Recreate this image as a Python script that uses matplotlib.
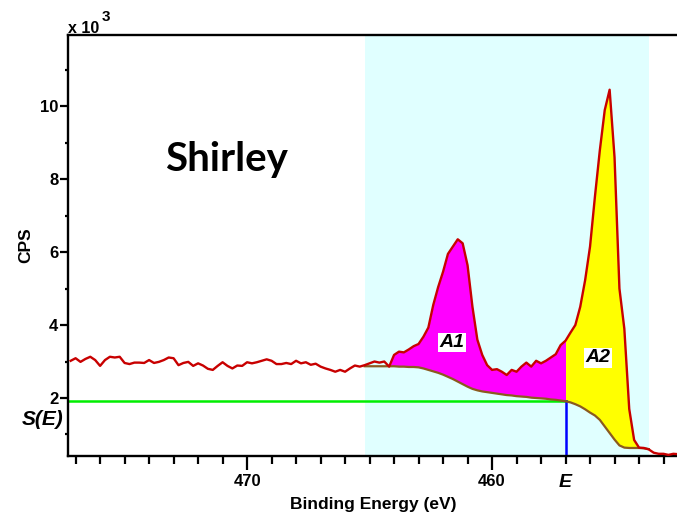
import numpy as np
import matplotlib
matplotlib.use('Agg')
import matplotlib.pyplot as plt
from matplotlib.ticker import MultipleLocator, FixedLocator

plt.rcParams['font.family'] = ['Liberation Sans', 'DejaVu Sans']

# binding energy grid of the spectrum (eV), 0.2 eV steps
be = np.linspace(477.2, 452.4, 125)
# measured counts (x 10^3 CPS)
cps = [3.02, 3.09, 2.99, 3.07, 3.13, 3.04, 2.88, 3.04, 3.13, 3.11,
       3.13, 2.96, 2.93, 2.97, 2.97, 2.96, 3.04, 2.96, 2.99, 3.04,
       3.11, 3.09, 2.90, 2.96, 2.99, 2.88, 2.95, 2.89, 2.80, 2.77,
       2.88, 2.98, 2.88, 2.81, 2.89, 2.88, 2.98, 2.95, 2.98, 3.02,
       3.06, 3.02, 2.93, 2.93, 2.96, 2.93, 3.02, 2.95, 2.98, 2.91,
       2.94, 2.86, 2.81, 2.77, 2.72, 2.77, 2.72, 2.81, 2.89, 2.86,
       2.90, 2.95, 3.00, 2.97, 3.00, 2.86, 3.18, 3.27, 3.25, 3.33,
       3.42, 3.48, 3.68, 3.93, 4.55, 5.04, 5.46, 5.95, 6.15, 6.35,
       6.24, 5.64, 4.50, 3.60, 3.18, 2.90, 2.77, 2.79, 2.72, 2.63,
       2.77, 2.72, 2.86, 2.97, 2.86, 3.02, 2.95, 3.02, 3.11, 3.20,
       3.45, 3.57, 3.79, 4.00, 4.50, 5.23, 6.15, 7.52, 8.79, 9.89,
       10.45, 8.60, 5.00, 3.90, 1.70, 0.85, 0.64, 0.63, 0.59, 0.50,
       0.47, 0.47, 0.44, 0.47, 0.46]
cps = np.array(cps)

# Shirley background over the region
region_lo, region_hi = 465.2, 453.6
be_bg = np.linspace(region_lo, region_hi, 59)
shirley = [2.87, 2.87, 2.87, 2.87, 2.87, 2.87, 2.87, 2.86, 2.86, 2.85,
           2.85, 2.84, 2.81, 2.77, 2.73, 2.69, 2.64, 2.58, 2.52, 2.45,
           2.38, 2.31, 2.25, 2.21, 2.18, 2.16, 2.14, 2.12, 2.10, 2.08,
           2.07, 2.05, 2.04, 2.03, 2.01, 2.00, 1.99, 1.98, 1.96, 1.95,
           1.93, 1.91, 1.88, 1.83, 1.77, 1.69, 1.60, 1.52, 1.40, 1.22,
           1.04, 0.86, 0.70, 0.64, 0.63, 0.63, 0.63, 0.62, 0.60]
shirley = np.array(shirley)

E = 457.0          # energy where S(E) is read
a1_start = 464.2   # start of the A1 area

i0 = np.argmin(np.abs(be - region_lo))
cps_bg = cps[i0:i0 + len(be_bg)]
S_E = shirley[np.argmin(np.abs(be_bg - E))]

fig = plt.figure(figsize=(6.77, 5.18), dpi=100)
ax = fig.add_axes([68/677, 1 - 456/518, 609/677, 421/518])

xmin, xmax = 477.31, 452.45
ymin, ymax = 0.41, 11.95

ax.axvspan(region_lo, region_hi, color='#E0FFFF', lw=0, zorder=0)

m1 = (be_bg <= a1_start + 1e-6) & (be_bg >= E - 1e-6)
m2 = be_bg <= E + 1e-6
ax.fill_between(be_bg, shirley, cps_bg, where=m1, color='#FF00FF', lw=0, zorder=1)
ax.fill_between(be_bg, shirley, cps_bg, where=m2, color='#FFFF00', lw=0, zorder=1)

ax.plot([xmin, E], [S_E, S_E], color='#00EE00', lw=1.8, zorder=2)
ax.plot([E, E], [ymin, S_E], color='#0000FF', lw=1.8, zorder=2)
ax.plot(be_bg, shirley, color='#8B5A1E', lw=1.6, zorder=3)
ax.plot(be, cps, color='#C80000', lw=1.7, zorder=4)

ax.set_xlim(xmin, xmax)
ax.set_ylim(ymin, ymax)

ax.xaxis.set_major_locator(FixedLocator([470, 460]))
ax.xaxis.set_minor_locator(MultipleLocator(1))
ax.yaxis.set_major_locator(FixedLocator([2, 4, 6, 8, 10]))
ax.yaxis.set_minor_locator(FixedLocator([1, 3, 5, 7, 9, 11]))
ax.tick_params(axis='x', which='major', length=10, width=1.6, pad=3, labelsize=12)
ax.tick_params(axis='x', which='minor', length=5.5, width=1.6)
ax.tick_params(axis='y', which='major', length=5.5, width=1.6, pad=1.5, labelsize=12)
ax.tick_params(axis='y', which='minor', length=2.5, width=1.6)
for lab in ax.get_xticklabels() + ax.get_yticklabels():
    lab.set_fontweight('bold')

for s in ['left', 'bottom', 'top']:
    ax.spines[s].set_linewidth(1.7)
ax.spines['right'].set_visible(False)

ax.set_xlabel('Binding Energy (eV)', fontsize=12.5, fontweight='bold')
ax.xaxis.set_label_coords(0.5008, -0.0974)
ax.set_ylabel('CPS', fontsize=12.5, fontweight='bold')
ax.yaxis.set_label_coords(-0.0575, 0.5)

ax.text(0.0, 1.005, 'x 10', transform=ax.transAxes, ha='left', va='baseline',
        fontsize=11.5, fontweight='bold')
ax.text(0.056, 1.033, '3', transform=ax.transAxes, ha='left', va='baseline',
        fontsize=11, fontweight='bold')

ax.text(473.35, 8.22, 'Shirley', family='Lato', fontweight='bold', fontsize=29,
        ha='left', va='baseline')

ax.text(477.5, 1.26, 'S(E)', fontsize=15, fontweight='bold', style='italic',
        ha='right', va='baseline', clip_on=False)
ax.text(E, -0.44, 'E', fontsize=14, fontweight='bold', style='italic',
        ha='center', va='baseline', clip_on=False)

box = dict(facecolor='white', edgecolor='none', pad=1)
ax.text(461.63, 3.52, 'A1', fontsize=14, fontweight='bold', style='italic',
        ha='center', va='center', bbox=box, zorder=5)
ax.text(455.67, 3.10, 'A2', fontsize=14, fontweight='bold', style='italic',
        ha='center', va='center', bbox=box, zorder=5)

plt.savefig('out.png', dpi=100)
